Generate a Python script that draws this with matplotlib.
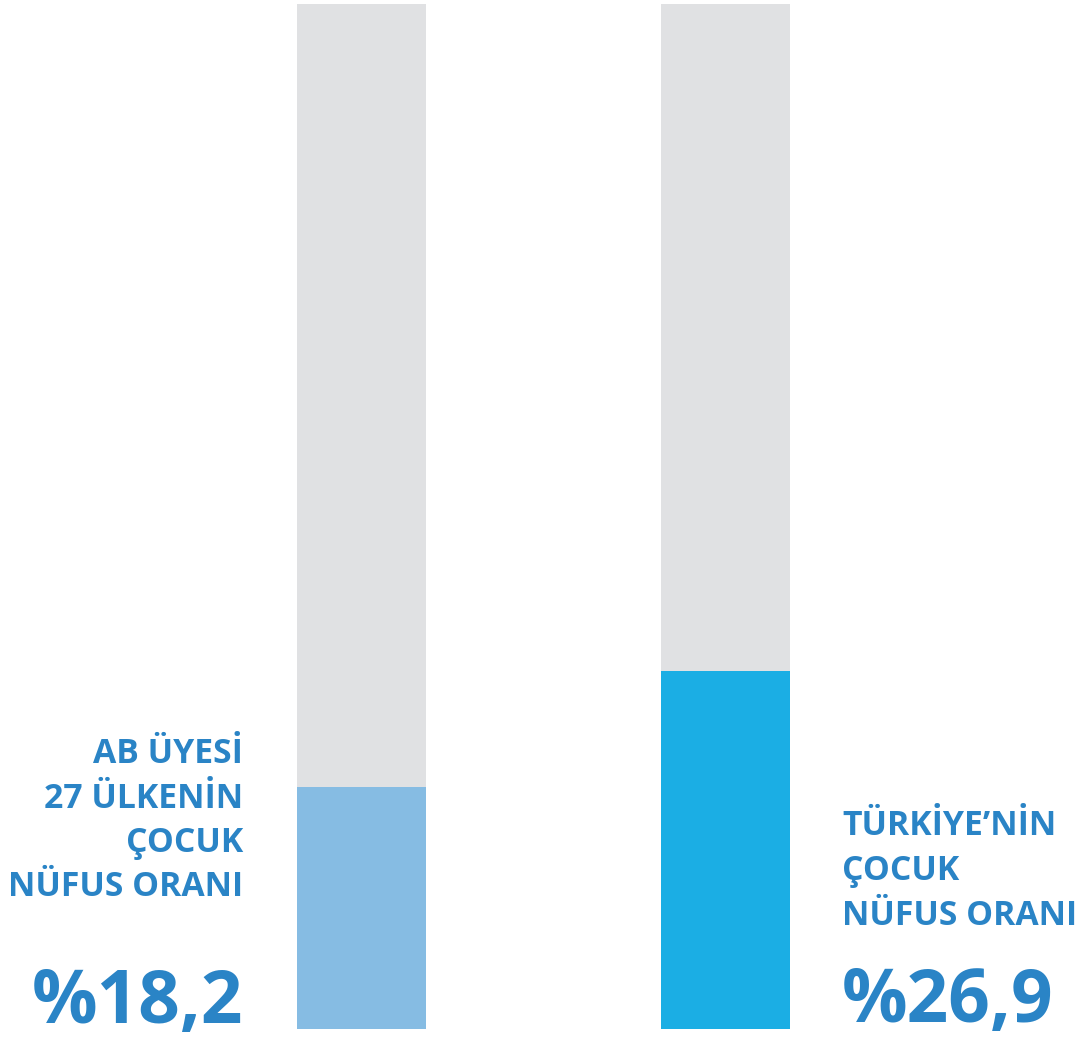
import matplotlib
matplotlib.use("Agg")
import matplotlib.pyplot as plt

categories = ["AB ÜYESİ\n27 ÜLKENİN\nÇOCUK\nNÜFUS ORANI", "TÜRKİYE’NİN\nÇOCUK\nNÜFUS ORANI"]
values = [18.2, 26.9]
value_labels = ["%18,2", "%26,9"]
track_max = [77, 77]  # visual scale of the grey background track

W, H = 1079, 1039
fig = plt.figure(figsize=(W / 100, H / 100), dpi=100)
fig.patch.set_facecolor("white")

bar_w = 129 / 364
left_px, right_px = 297, 790
ax = fig.add_axes([left_px / W, 10 / H, (right_px - left_px) / W, 1025 / H])
x = list(range(len(values)))
ax.bar(x, track_max, width=bar_w, color="#E0E1E3", linewidth=0)
ax.bar(x, values, width=bar_w, color=["#86BCE3", "#1BAEE4"], linewidth=0)
ax.set_xlim(-bar_w / 2, len(values) - 1 + bar_w / 2)
ax.set_ylim(0, max(track_max))
ax.axis("off")

txt_color = "#2A84C6"
fam = ["Open Sans", "DejaVu Sans"]

def fy(py):
    return 1 - py / H

# left label (right aligned)
left_lines = categories[0].split("\n")
left_base = [763, 808, 852, 896]
for line, b in zip(left_lines, left_base):
    fig.text(243 / W, fy(b), line, ha="right", va="baseline", fontsize=24.3,
             fontweight="bold", color=txt_color, family=fam)
fig.text(243 / W, fy(1023), value_labels[0], ha="right", va="baseline", fontsize=52.5,
         fontweight="bold", color=txt_color, family=fam)

right_lines = categories[1].split("\n")
right_base = [835, 880, 925]
for line, b in zip(right_lines, right_base):
    fig.text(842 / W, fy(b), line, ha="left", va="baseline", fontsize=24.3,
             fontweight="bold", color=txt_color, family=fam)
fig.text(842 / W, fy(1022), value_labels[1], ha="left", va="baseline", fontsize=52.5,
         fontweight="bold", color=txt_color, family=fam)

fig.savefig("out.png", dpi=100, facecolor="white")
